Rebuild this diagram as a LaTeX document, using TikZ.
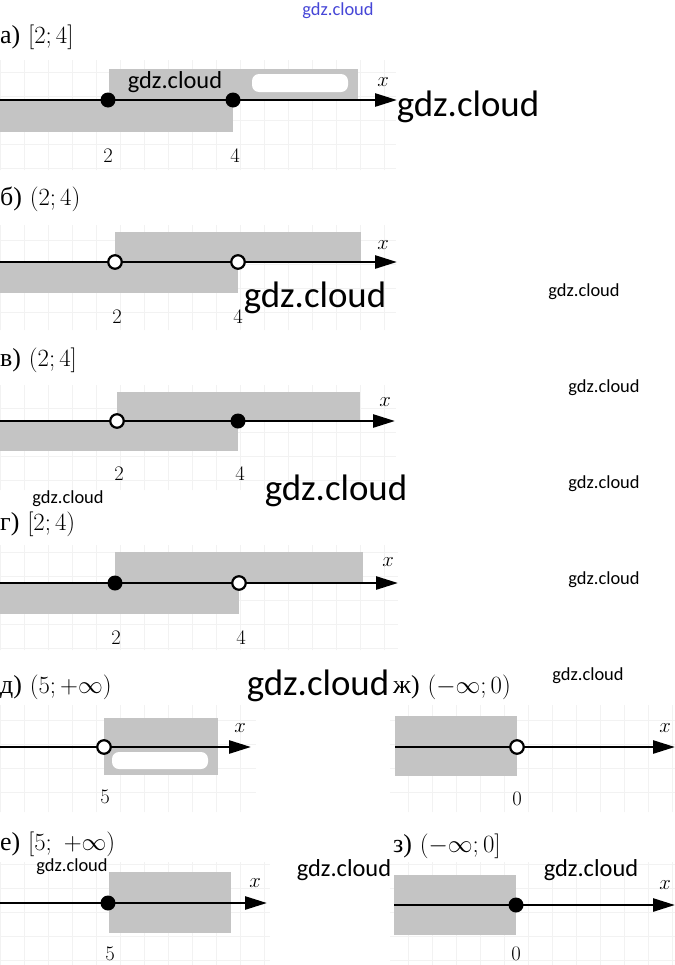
\documentclass[tikz,border=0pt]{standalone}
\usepackage{fontspec}
\usetikzlibrary{arrows.meta}
\newfontfamily\cyr{Liberation Serif}
\newfontfamily\wmfont{Carlito}
\definecolor{bandgray}{RGB}{196,196,196}
\definecolor{gridgray}{RGB}{242,242,242}
\definecolor{wmblue}{RGB}{70,70,215}
\tikzset{
  band/.style={fill=bandgray, draw=none},
  blob/.style={fill=white, draw=none, rounded corners=7bp},
  gridln/.style={draw=gridgray, line width=0.9bp},
  axisline/.style={line width=2.6bp, -{Triangle[length=22bp,width=13bp]}},
  fdot/.style={circle, fill=black, inner sep=0pt, minimum size=15bp},
  odot/.style={circle, fill=white, draw=black, line width=2.2bp, inner sep=0pt, minimum size=13.5bp},
  lbl/.style={anchor=base, inner sep=0pt, font=\fontsize{22}{26}\selectfont},
  ttl/.style={anchor=base west, inner sep=0pt, font=\fontsize{26}{30}\selectfont},
  wmS/.style={inner sep=0pt, font=\wmfont\fontsize{18.5}{20}\selectfont},
  wmM/.style={inner sep=0pt, font=\wmfont\fontsize{24.5}{26}\selectfont},
  wmL/.style={inner sep=0pt, font=\wmfont\fontsize{37}{40}\selectfont},
}
\begin{document}
\begin{tikzpicture}[x=1bp,y=-1bp]
\useasboundingbox[fill=white] (0,0) rectangle (675,965);

% ---------- grids ----------
\draw[gridln] (0,60) grid[step=24bp] (396,170);
\draw[gridln] (0,225) grid[step=24bp] (396,330);
\draw[gridln] (0,385) grid[step=24bp] (396,490);
\draw[gridln] (0,545) grid[step=24bp] (398,650);
\draw[gridln] (0,705) grid[step=24bp] (256,812);
\draw[gridln] (390,705) grid[step=24bp] (675,812);
\draw[gridln] (0,862) grid[step=24bp] (270,965);
\draw[gridln] (390,862) grid[step=24bp] (675,965);

% ---------- а) ----------
\node[ttl] (ta) at (0,43) {{\cyr а)} $[2;4]$};
\fill[band] (109,69) rectangle (358,100);
\fill[band] (0,100) rectangle (233,132);
\fill[blob] (252,74) rectangle (348,92);
\coordinate (aL) at (0,100);
\coordinate (aR) at (397,100);
\draw[axisline] (aL) -- (aR);
\node[fdot] (a2) at (108,100) {};
\node[fdot] (a4) at (233,100) {};
\node[lbl] (la2) at (108,162) {$2$};
\node[lbl] (la4) at (235,162) {$4$};
\node[lbl] (xa) at (383,86) {$x$};

% ---------- б) ----------
\node[ttl] (tb) at (0,205) {{\cyr б)} $(2;4)$};
\fill[band] (115,232) rectangle (361,262);
\fill[band] (0,262) rectangle (238,293);
\coordinate (bL) at (0,262);
\coordinate (bR) at (397,262);
\draw[axisline] (bL) -- (bR);
\node[odot] (b2) at (115,262) {};
\node[odot] (b4) at (238,262) {};
\node[lbl] (lb2) at (117,323) {$2$};
\node[lbl] (lb4) at (238,323) {$4$};
\node[lbl] (xb) at (383,249) {$x$};

% ---------- в) ----------
\node[ttl] (tv) at (0,366) {{\cyr в)} $(2;4]$};
\fill[band] (117,392) rectangle (360,421);
\fill[band] (0,421) rectangle (238,451);
\coordinate (vL) at (0,421);
\coordinate (vR) at (395,421);
\draw[axisline] (vL) -- (vR);
\node[odot] (v2) at (117,421) {};
\node[fdot] (v4) at (238,421) {};
\node[lbl] (lv2) at (119,480) {$2$};
\node[lbl] (lv4) at (240,480) {$4$};
\node[lbl] (xv) at (385,406) {$x$};

% ---------- г) ----------
\node[ttl] (tg) at (0,530) {{\cyr г)} $[2;4)$};
\fill[band] (115,552) rectangle (363,583);
\fill[band] (0,583) rectangle (239,614);
\coordinate (gL) at (0,583);
\coordinate (gR) at (398,583);
\draw[axisline] (gL) -- (gR);
\node[fdot] (g2) at (115,583) {};
\node[odot] (g4) at (239,583) {};
\node[lbl] (lg2) at (116,644) {$2$};
\node[lbl] (lg4) at (241,644) {$4$};
\node[lbl] (xg) at (388,566) {$x$};

% ---------- д) ----------
\node[ttl] (td) at (0,693) {{\cyr д)} $(5;+\infty)$};
\fill[band] (104,718) rectangle (218,775);
\fill[blob] (112,752) rectangle (208,769);
\coordinate (dL) at (0,747);
\coordinate (dR) at (251,747);
\draw[axisline] (dL) -- (dR);
\node[odot] (d5) at (104,747) {};
\node[lbl] (ld5) at (105,803) {$5$};
\node[lbl] (xd) at (240,732) {$x$};

% ---------- ж) ----------
\node[ttl] (tzh) at (393,693) {{\cyr ж)} $(-\infty;0)$};
\fill[band] (395,716) rectangle (517,776);
\coordinate (zhL) at (395,747);
\coordinate (zhR) at (675,747);
\draw[axisline] (zhL) -- (zhR);
\node[odot] (zh0) at (517,747) {};
\node[lbl] (lzh0) at (517,805) {$0$};
\node[lbl] (xzh) at (665,732) {$x$};

% ---------- е) ----------
\node[ttl] (te) at (0,850) {{\cyr е)} $[5;\ +\infty)$};
\fill[band] (109,872) rectangle (231,933);
\coordinate (eL) at (0,903);
\coordinate (eR) at (267,903);
\draw[axisline] (eL) -- (eR);
\node[fdot] (e5) at (108,903) {};
\node[lbl] (le5) at (110,960) {$5$};
\node[lbl] (xe) at (255,887) {$x$};

% ---------- з) ----------
\node[ttl] (tz) at (393,852) {{\cyr з)} $(-\infty;0]$};
\fill[band] (394,875) rectangle (516,935);
\coordinate (zL) at (394,905);
\coordinate (zR) at (675,905);
\draw[axisline] (zL) -- (zR);
\node[fdot] (z0) at (516,905) {};
\node[lbl] (lz0) at (516,960) {$0$};
\node[lbl] (xz) at (665,889) {$x$};

% ---------- watermarks ----------
\node[wmS, text=wmblue] (w1) at (338,11) {gdz.cloud};
\node[wmM] (w2) at (175,82) {gdz.cloud};
\node[wmL] (w3) at (468,107) {gdz.cloud};
\node[wmL] (w4) at (315,298) {gdz.cloud};
\node[wmS] (w5) at (584,292) {gdz.cloud};
\node[wmS] (w6) at (604,388) {gdz.cloud};
\node[wmL] (w7) at (336,491) {gdz.cloud};
\node[wmS] (w8) at (68,499) {gdz.cloud};
\node[wmS] (w9) at (604,484) {gdz.cloud};
\node[wmS] (w10) at (604,580) {gdz.cloud};
\node[wmL] (w11) at (318,686) {gdz.cloud};
\node[wmS] (w12) at (588,676) {gdz.cloud};
\node[wmS] (w13) at (72,867) {gdz.cloud};
\node[wmM] (w14) at (344,870) {gdz.cloud};
\node[wmM] (w15) at (591,870) {gdz.cloud};
\end{tikzpicture}
\end{document}
